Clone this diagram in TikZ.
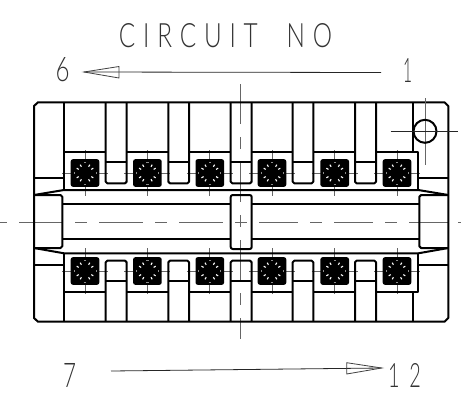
\documentclass[tikz,border=0pt]{standalone}
\usepackage{fontspec}
\newfontfamily\thinfont{Lato Light}
\tikzset{
  body/.style={line width=2pt,black,line join=round,rounded corners=0pt},
  centreline/.style={line width=0.9pt,black!60},
  dim/.style={line width=0.8pt,black!85},
  lbl/.style={inner sep=0pt,outer sep=0pt,text=black!80,font=\thinfont}
}
\newcommand{\termblock}[2]{%
  \begin{scope}[shift={(#1,#2)}]
    \draw[centreline] (-23,0) -- (23,0) (0,-23) -- (0,23);
    \fill[black,rounded corners=2.2pt] (-14.3,-13.8) rectangle (14.3,13.8);
    \foreach \a in {30,60,120,150,210,240,300,330}
      \draw[white,line width=1.1pt] (\a:7.2) -- (\a:9.6);
    \foreach \a in {0,90,180,270}
      \draw[white!55!black,line width=0.7pt] (\a:11) ++(\a+90:1.2) -- ++(\a-90:2.4);
  \end{scope}}
\begin{document}
\begin{tikzpicture}[x=1pt,y=-1pt]
\useasboundingbox (0,0) rectangle (461,394);

% centre lines
\draw[centreline] (240.7,84) -- (240.7,124) (240.7,137) -- (240.7,149) (240.7,162) -- (240.7,202)
  (240.7,215) -- (240.7,227) (240.7,240) -- (240.7,280) (240.7,293) -- (240.7,305) (240.7,318) -- (240.7,339);
\draw[centreline] (0,222) -- (7,222) (19,222) -- (63,222) (75,222) -- (87,222) (99,222) -- (143,222)
  (155,222) -- (167,222) (179,222) -- (223,222) (235,222) -- (247,222) (259,222) -- (298,222)
  (310,222) -- (322,222) (334,222) -- (373,222) (385,222) -- (397,222) (409,222) -- (448,222) (458,222) -- (461,222);

% terminals
\foreach \cx in {85,147.4,209.8,272,334.7,397}{
  \termblock{\cx}{173}
  \termblock{\cx}{271}
}

% outer body
\draw[body] (38,102.3) -- (444.5,102.3) -- (448.3,106) -- (448.3,318) -- (444.5,321.7)
  -- (38,321.7) -- (34,318) -- (34,106) -- cycle;

% top half
\draw[body] (64,102.3) -- (64,190) (413.3,102.3) -- (413.3,151.7) -- (418.3,151.7) -- (418.3,190)
  (34,178.3) -- (64,178.3) (418.3,178.3) -- (448.3,178.3);
\foreach \l/\r in {105.7/126.7,168.3/189,230.7/251.7,292.7/313.3,355/376}{
  \draw[body,rounded corners=1.6pt] (\l,102.3) -- (\l,183.3) -- (\r,183.3) -- (\r,102.3);
  \draw[body] (\l,162.3) -- (\r,162.3);
  \draw[body,rounded corners=1.6pt] (\l,321.7) -- (\l,260.7) -- (\r,260.7) -- (\r,321.7);
  \draw[body] (\l,281) -- (\r,281);
}
\foreach \l/\r in {64/105.7,126.7/168.3,189/230.7,251.7/292.7,313.3/355}{
  \draw[body] (\l,151.7) -- (\r,151.7) (\l,291.5) -- (\r,291.5);
}
\draw[body] (376,151.7) -- (413.3,151.7) (376,291.5) -- (413.3,291.5);

% bottom half
\draw[body] (64,253.3) -- (64,321.7) (413.3,321.7) -- (413.3,291.5) -- (418.3,291.5) -- (418.3,253.3)
  (34,265) -- (64,265) (418.3,265) -- (448.3,265);

% central slide
\draw[body] (34,195) -- (64,190) -- (418.3,190) -- (448.3,195)
  (34,248) -- (64,253.3) -- (418.3,253.3) -- (448.3,248);
\draw[body,rounded corners=1.8pt] (34,195) -- (62.3,195) -- (62.3,248) -- (34,248);
\draw[body,rounded corners=1.8pt] (448.3,195) -- (419.3,195) -- (419.3,248) -- (448.3,248);
\draw[body] (62.3,204.3) -- (230.7,204.3) (251.7,204.3) -- (419.3,204.3)
  (62.3,239) -- (230.7,239) (251.7,239) -- (419.3,239);
\draw[body,rounded corners=2pt] (230.7,195) rectangle (251.7,249);

% datum circle
\draw[centreline] (425,98) -- (425,165);
\draw[body] (425,131.3) circle (11.5);
\draw[dim] (390.7,131.3) -- (458.3,131.3);

% circuit labels
\node[lbl] (title) at (225.5,36) {\resizebox{213pt}{24pt}{\addfontfeature{LetterSpace=32}CIRCUIT\ \ NO}};
\node[lbl] (six) at (62.5,70) {\resizebox{14pt}{24pt}{6}};
\node[lbl] (one) at (407.5,70) {\resizebox{9pt}{24pt}{1}};
\node[lbl] (seven) at (69.5,375) {\resizebox{13pt}{24pt}{7}};
\node[lbl] (twelve) at (404.5,375) {\resizebox{33pt}{24pt}{\addfontfeature{LetterSpace=50}12}};

% arrows
\coordinate (topstart) at (381,72.5);
\coordinate (toptip) at (84,72);
\coordinate (botstart) at (111,371);
\coordinate (bottip) at (381.7,368);
\draw[dim] (topstart) -- (toptip);
\draw[dim,black!75,line join=miter] (toptip) -- (119,66.5) -- (119,78) -- cycle;
\draw[dim] (botstart) -- (bottip);
\draw[dim,black!75,line join=miter] (bottip) -- (346.7,362.7) -- (346.7,374) -- cycle;
\end{tikzpicture}
\end{document}
